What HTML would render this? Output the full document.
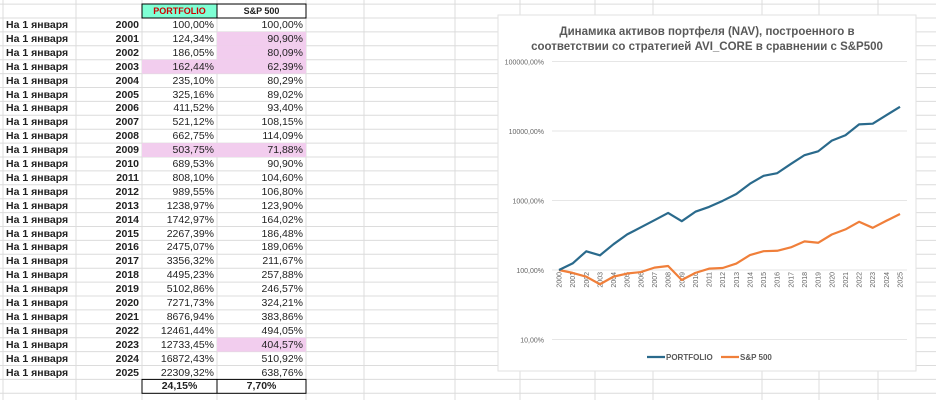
<!DOCTYPE html>
<html><head><meta charset="utf-8">
<style>
body{margin:0;width:936px;height:400px;overflow:hidden;background:#fff;font-family:"Liberation Sans","Noto Sans CJK SC",sans-serif;position:relative}
.c{position:absolute;font-size:10.5px;line-height:14px;color:#222;white-space:nowrap}
</style></head><body>
<svg id="g" width="936" height="400" style="position:absolute;left:0;top:0"></svg>
<div id="t"></div>
<script>
const P=[100,124.34,186.05,162.44,235.10,325.16,411.52,521.12,662.75,503.75,689.53,808.10,989.55,1238.97,1742.97,2267.39,2475.07,3356.32,4495.23,5102.86,7271.73,8676.94,12461.44,12733.45,16872.43,22309.32];
const S=[100,90.90,80.09,62.39,80.29,89.02,93.40,108.15,114.09,71.88,90.90,104.60,106.80,123.90,164.02,186.48,189.06,211.67,257.88,246.57,324.21,383.86,494.05,404.57,510.92,638.76];
const pinkP=[3,9],pinkS=[1,2,3,9,23];
const f=v=>v.toFixed(2).replace('.',',')+'%';
const rh=13.9,top0=18;
let s='';
// grid
const cols=[3,76,142,217,306,364,455,520,595,653,762,819,878];
for(const x of cols)s+=`<line x1="${x}" y1="0" x2="${x}" y2="400" stroke="#dcdcdc" stroke-width="1"/>`;
for(let i=-1;i<28;i++){const y=top0+i*rh;s+=`<line x1="0" y1="${y}" x2="936" y2="${y}" stroke="#dcdcdc" stroke-width="1"/>`;}
// fills
s+=`<rect x="142" y="4" width="75" height="14" fill="#7fffd4"/>`;
for(const i of pinkP)s+=`<rect x="142" y="${top0+i*rh}" width="75" height="${rh}" fill="#f2cdee"/>`;
for(const i of pinkS)s+=`<rect x="217" y="${top0+i*rh}" width="89" height="${rh}" fill="#f2cdee"/>`;
s+=`<rect x="142" y="4" width="164" height="14" fill="none" stroke="#000" stroke-width="1"/><line x1="217" y1="4" x2="217" y2="18" stroke="#000"/>`;
const ty=top0+26*rh;
s+=`<rect x="142" y="${ty}" width="164" height="${rh}" fill="#fff" stroke="#000" stroke-width="1"/><line x1="217" y1="${ty}" x2="217" y2="${ty+rh}" stroke="#000"/>`;
// chart
s+=`<rect x="498" y="15" width="418" height="356" fill="#fff" stroke="#e2e2e2"/>`;
const Y=v=>270-69.5*Math.log10(v/100), X=i=>559+i*13.64;
const yl=[[1e5,'100000,00%'],[1e4,'10000,00%'],[1e3,'1000,00%'],[100,'100,00%'],[10,'10,00%']];
for(const [v,l] of yl){const y=Y(v);s+=`<line x1="552" y1="${y}" x2="907" y2="${y}" stroke="#e6e6e6"/><text x="544" y="${y+3}" font-size="7" fill="#666" text-anchor="end">${l}</text>`;}
for(let i=0;i<26;i++){s+=`<text transform="translate(${X(i)+2.5},272) rotate(-90)" font-size="7" fill="#666" text-anchor="end">${2000+i}</text>`;}
const pl=(a,c)=>`<polyline fill="none" stroke="${c}" stroke-width="2.2" stroke-linejoin="round" points="${a.map((v,i)=>X(i)+','+Y(v)).join(' ')}"/>`;
s+=pl(S,'#f07f3a')+pl(P,'#2a6a8c');
s+=`<text x="707" y="35" font-size="11.5" font-weight="bold" fill="#595959" text-anchor="middle">Динамика активов портфеля (NAV), построенного в</text>`;
s+=`<text x="707" y="50" font-size="11.5" font-weight="bold" fill="#595959" text-anchor="middle">соответствии со стратегией AVI_CORE  в сравнении с S&amp;P500</text>`;
s+=`<line x1="647" y1="357" x2="665" y2="357" stroke="#2a6a8c" stroke-width="2.2"/><text x="666" y="360" font-size="8" font-weight="bold" fill="#595959">PORTFOLIO</text>`;
s+=`<line x1="721" y1="357" x2="739" y2="357" stroke="#f07f3a" stroke-width="2.2"/><text x="740" y="360" font-size="8" font-weight="bold" fill="#595959">S&amp;P 500</text>`;
document.getElementById('g').innerHTML=s;
let h=`<div class="c" style="left:142px;top:4px;width:75px;text-align:center;color:#d00000;font-weight:bold;font-size:9px">PORTFOLIO</div><div class="c" style="left:217px;top:4px;width:89px;text-align:center;font-weight:bold;font-size:9px">S&amp;P 500</div>`;
for(let i=0;i<26;i++){const y=top0+i*rh;
h+=`<div class="c" style="left:6px;top:${y}px;font-weight:bold">На 1 января</div><div class="c" style="left:76px;top:${y}px;width:63px;text-align:right;font-weight:bold">${2000+i}</div><div class="c" style="left:142px;top:${y}px;width:72px;text-align:right">${f(P[i])}</div><div class="c" style="left:217px;top:${y}px;width:86px;text-align:right">${f(S[i])}</div>`;}
h+=`<div class="c" style="left:142px;top:${ty}px;width:75px;text-align:center;font-weight:bold">24,15%</div><div class="c" style="left:217px;top:${ty}px;width:89px;text-align:center;font-weight:bold">7,70%</div>`;
document.getElementById('t').innerHTML=h;
</script>
</body></html>
